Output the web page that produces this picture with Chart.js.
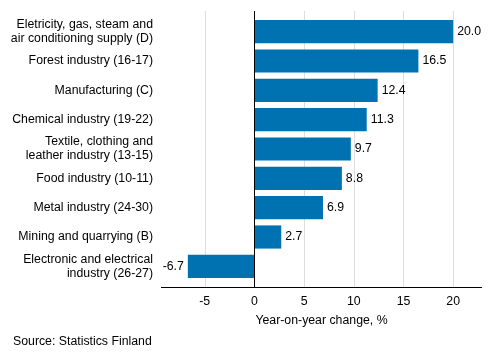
<!DOCTYPE html>
<html><head><meta charset="utf-8">
<script src="https://cdn.jsdelivr.net/npm/chart.js@4"></script>
<style>html,body{margin:0;padding:0;background:#fff}#wrap{width:493px;height:360px}</style>
</head><body><div id="wrap"><canvas id="c" width="493" height="360"></canvas></div>
<script>
const categories = [
  ["Eletricity, gas, steam and","air conditioning supply (D)"],
  "Forest industry (16-17)",
  "Manufacturing (C)",
  "Chemical industry (19-22)",
  ["Textile, clothing and","leather industry (13-15)"],
  "Food industry (10-11)",
  "Metal industry (24-30)",
  "Mining and quarrying (B)",
  ["Electronic and electrical","industry (26-27)"]
];
const values = [20.0, 16.5, 12.4, 11.3, 9.7, 8.8, 6.9, 2.7, -6.7];
const xTicks = [-5, 0, 5, 10, 15, 20];
const axisTitle = "Year-on-year change, %";
const sourceText = "Source: Statistics Finland";

const FONT = "'Liberation Sans', Arial, sans-serif";
Chart.defaults.font.family = FONT;
Chart.defaults.color = '#000';

const ext = 6;
const gridPlugin = {
  id: 'grid',
  beforeDatasetsDraw(chart) {
    const {ctx, chartArea: a, scales: {x}} = chart;
    ctx.save();
    ctx.lineWidth = 1;
    xTicks.forEach(v => {
      if (v === 0) return;
      const px = Math.round(x.getPixelForValue(v)) + 0.5;
      ctx.strokeStyle = '#dddddd';
      ctx.beginPath(); ctx.moveTo(px, a.top - ext); ctx.lineTo(px, a.bottom + ext); ctx.stroke();
    });
    ctx.restore();
  },
  afterDatasetsDraw(chart) {
    const {ctx, chartArea: a, scales: {x}} = chart;
    ctx.save();
    ctx.strokeStyle = '#000'; ctx.lineWidth = 1;
    const zx = Math.round(x.getPixelForValue(0)) + 0.5;
    ctx.beginPath(); ctx.moveTo(zx, a.top - ext); ctx.lineTo(zx, a.bottom + ext); ctx.stroke();
    const by = Math.round(a.bottom + ext) + 0.5;
    ctx.beginPath(); ctx.moveTo(a.left, by); ctx.lineTo(a.right, by); ctx.stroke();
    ctx.fillStyle = '#000';
    ctx.font = '12.3px ' + FONT;
    ctx.textBaseline = 'middle';
    const meta = chart.getDatasetMeta(0);
    meta.data.forEach((bar, i) => {
      const v = values[i];
      const t = v.toFixed(1);
      if (v >= 0) { ctx.textAlign = 'left'; ctx.fillText(t, bar.x + 4, bar.y); }
      else { ctx.textAlign = 'right'; ctx.fillText(t, bar.x - 4, bar.y); }
    });
    ctx.textAlign = 'left';
    ctx.fillText(sourceText, 13, 342);
    ctx.restore();
  }
};

new Chart(document.getElementById('c'), {
  type: 'bar',
  data: {
    labels: categories,
    datasets: [{
      data: values,
      backgroundColor: '#0072b2',
      borderWidth: 0,
      barPercentage: 0.79,
      categoryPercentage: 1
    }]
  },
  options: {
    indexAxis: 'y',
    responsive: false,
    animation: false,
    layout: { padding: { top: 17, right: 11, left: 0, bottom: 0 } },
    plugins: { legend: { display: false }, tooltip: { enabled: false } },
    scales: {
      x: {
        type: 'linear',
        min: -9.4, max: 22.9,
        afterBuildTicks(s) { s.ticks = xTicks.map(v => ({value: v})); },
        afterFit(s) { s.height = 79; s.paddingLeft = 0; s.paddingRight = 0; },
        grid: { display: false, drawTicks: false },
        border: { display: false },
        ticks: { font: { size: 12.3 }, padding: 13, color: '#000' },
        title: { display: true, text: axisTitle, font: { size: 12.3 }, color: '#000', padding: { top: 0, bottom: 32 } }
      },
      y: {
        afterFit(s) { s.width = 161; s.paddingTop = 0; s.paddingBottom = 0; },
        grid: { display: false, drawTicks: false },
        border: { display: false },
        ticks: { font: { size: 12.3, lineHeight: 1.15 }, padding: 8, color: '#000', autoSkip: false }
      }
    }
  },
  plugins: [gridPlugin]
});
</script></body></html>
